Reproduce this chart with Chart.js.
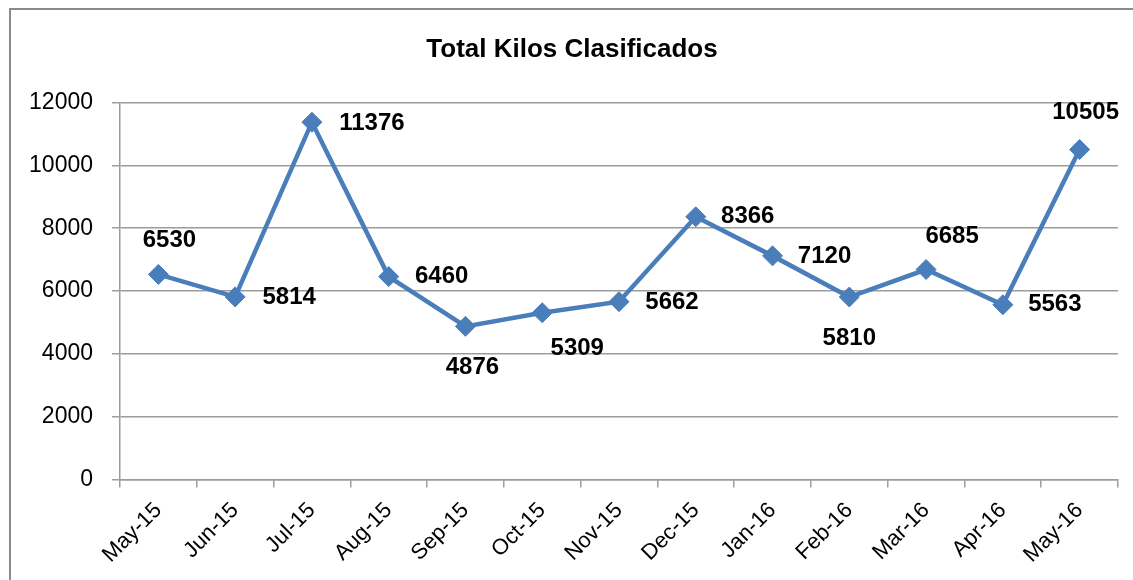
<!DOCTYPE html>
<html lang="es">
<head>
    <meta charset="UTF-8">
    <title>Total Kilos Clasificados</title>
    <script src="https://cdn.jsdelivr.net/npm/chart.js"></script>
    <style>
        html, body { margin: 0; padding: 0; background: #fff; overflow: hidden; }
        .frame { position: absolute; left: 9px; top: 8px; width: 1200px; height: 700px; border: 2px solid #8a8a8a; }
        .wrap { position: absolute; left: 0; top: 0; width: 1133px; height: 580px; }
    </style>
</head>
<body>
    <div class="frame"></div>
    <div class="wrap">
        <canvas id="kilosChart" width="1133" height="580"></canvas>
    </div>

    <script>
        // data
        const months = ['May-15', 'Jun-15', 'Jul-15', 'Aug-15', 'Sep-15', 'Oct-15', 'Nov-15',
                        'Dec-15', 'Jan-16', 'Feb-16', 'Mar-16', 'Apr-16', 'May-16'];
        const kilos = [6530, 5814, 11376, 6460, 4876, 5309, 5662, 8366, 7120, 5810, 6685, 5563, 10505];
        const yTicks = [0, 2000, 4000, 6000, 8000, 10000, 12000];

        // where each value label sits relative to its point (px)
        const labelShift = [[11, -34], [54, 0], [60, 1], [53, 0], [7, 41], [35, 36], [53, 1],
                            [52, 0], [52, 1], [0, 41], [26, -33], [52, 0], [6, -37]];

        const FONT = '"Liberation Sans", Arial, sans-serif';
        const GRID = '#9c9c9c';

        const valueLabels = {
            id: 'valueLabels',
            afterDatasetsDraw(chart) {
                const ctx = chart.ctx;
                const meta = chart.getDatasetMeta(0);
                ctx.save();
                ctx.font = 'bold 24px ' + FONT;
                ctx.fillStyle = '#000';
                ctx.textAlign = 'center';
                ctx.textBaseline = 'middle';
                meta.data.forEach((pt, i) => {
                    const s = labelShift[i];
                    ctx.fillText(String(kilos[i]), pt.x + s[0], pt.y + s[1]);
                });
                ctx.restore();
            }
        };

        new Chart(document.getElementById('kilosChart'), {
            type: 'line',
            data: {
                labels: months,
                datasets: [{
                    data: kilos,
                    borderColor: '#4a7ebb',
                    backgroundColor: '#4a7ebb',
                    borderWidth: 4.5,
                    pointStyle: 'rectRot',
                    pointRadius: 10,
                    pointBorderWidth: 1,
                    tension: 0
                }]
            },
            options: {
                responsive: false,
                animation: false,
                layout: { padding: { top: 20, left: 26, right: 15, bottom: 0 } },
                plugins: {
                    legend: { display: false },
                    tooltip: { enabled: false },
                    title: {
                        display: true,
                        text: 'Total Kilos Clasificados',
                        color: '#000',
                        font: { family: FONT, size: 26, weight: 'bold' },
                        padding: { top: 14.4, bottom: 37 }
                    }
                },
                scales: {
                    x: {
                        offset: true,
                        grid: { offset: true, drawOnChartArea: false, drawTicks: true, tickLength: 8, color: GRID, lineWidth: 1.5 },
                        border: { color: GRID, width: 1.5 },
                        ticks: {
                            color: '#000',
                            font: { family: FONT, size: 22 },
                            minRotation: 45,
                            maxRotation: 45,
                            padding: 10,
                            autoSkip: false
                        },
                        afterFit(scale) { scale.height = 100.5; }
                    },
                    y: {
                        min: 0,
                        max: 12000,
                        afterBuildTicks(scale) { scale.ticks = yTicks.map(v => ({ value: v })); },
                        grid: { color: GRID, lineWidth: 1.5, tickLength: 8 },
                        border: { color: GRID, width: 1.5 },
                        ticks: {
                            color: '#000',
                            font: { family: FONT, size: 23 },
                            padding: 19,
                            callback: v => String(v)
                        },
                        afterFit(scale) { scale.width = 94; }
                    }
                }
            },
            plugins: [valueLabels]
        });
    </script>
</body>
</html>
